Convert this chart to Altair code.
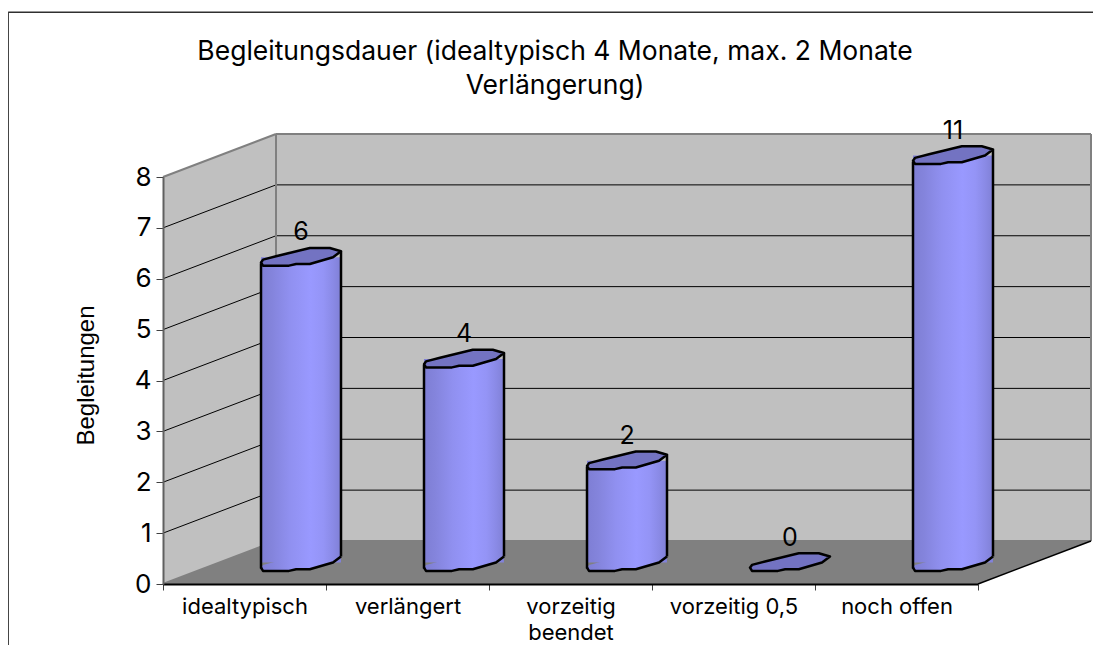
import altair as alt
import pandas as pd

categories = ["idealtypisch", "verlängert", "vorzeitig beendet", "vorzeitig 0,5", "noch offen"]
values = [6, 4, 2, 0, 11]
axis_labels = [["idealtypisch"], ["verlängert"], ["vorzeitig", "beendet"], ["vorzeitig 0,5"], ["noch offen"]]
title_lines = ["Begleitungsdauer (idealtypisch 4 Monate, max. 2 Monate", "Verlängerung)"]
y_max = 8
n = len(categories)
grid_levels = [1, 2, 3, 4, 5, 6, 7, 8]

# plot-unit geometry of the oblique 3D projection
DX = 113 / 163.0   # depth shift in category units
DY = 43 / 50.875   # depth shift in value units
HALF = 40 / 163.0  # half cylinder width in category units
SIDE = 6 / 50.875  # rim height at the cylinder side, in value units

CAP = ("M-1,0.13 L-0.95,0.06 L-0.6,-0.03 L0.22,-0.23 L0.72,-0.23 L1,-0.15 L0.8,0 "
       "L0.22,0.17 L-0.12,0.17 L-0.3,0.21 L-0.95,0.21 Z")
EDGE = "M-1,0.13 L-0.95,0.21 L-0.3,0.21 L-0.12,0.17 L0.22,0.17 L0.8,0 L1,-0.15"

FONT = "Inter"
BODY = alt.LinearGradient(gradient="linear", x1=0, x2=1, y1=0, y2=0, stops=[
    alt.GradientStop(offset=0, color="#7e7ed4"),
    alt.GradientStop(offset=0.14, color="#8484dc"),
    alt.GradientStop(offset=0.36, color="#9090f0"),
    alt.GradientStop(offset=0.62, color="#9999ff"),
    alt.GradientStop(offset=0.78, color="#9494f6"),
    alt.GradientStop(offset=0.9, color="#8a8ae6"),
    alt.GradientStop(offset=1, color="#8080d6"),
])

xs = alt.Scale(domain=[0, n], nice=False, zero=False)
ys = alt.Scale(domain=[0, y_max], nice=False, zero=False)

AX = alt.Axis(
    values=list(range(n + 1)), grid=False, zindex=1, domainColor="#000000", domainWidth=2,
    tickColor="#404040", tickSize=6, tickWidth=1, labelFont=FONT, labelFontSize=22,
    labelColor="#000000", labelOffset=81.5, labelPadding=6, labelBaseline="top",
    labelFlush=False, labelOverlap=False, labelAlign="center", labelLineHeight=26,
    labelExpr=f"datum.value < {n} ? {axis_labels}[datum.value] : ''")
AY = alt.Axis(
    values=list(range(y_max + 1)), grid=False, zindex=1, domainColor="#606060", domainWidth=2,
    tickColor="#404040", tickSize=7, tickWidth=1, labelFont=FONT, labelFontSize=26,
    labelColor="#000000", labelPadding=5, labelFlush=False, labelOverlap=False,
    titleFont="Liberation Sans", titleFontSize=24, titleFontWeight="normal", titleColor="#000000",
    titleX=-65, titleY=198)


def X(f="x"):
    return alt.X(f"{f}:Q", scale=xs, axis=AX, title=None)


def Y(f="y"):
    return alt.Y(f"{f}:Q", scale=ys, axis=AY, title="Begleitungen")


# walls and floor
side_wall = pd.DataFrame({"x": [0, DX], "y": [0, DY], "y2": [y_max, y_max + DY]})
back_wall = pd.DataFrame({"x": [DX, n + DX], "y": [DY, DY], "y2": [y_max + DY, y_max + DY]})
floor = pd.DataFrame({"x": [0, DX, n, n + DX], "y": [0, 0, 0, DY], "y2": [0, DY, DY, DY]})

walls = alt.Chart(back_wall).mark_area(color="#c0c0c0", interpolate="linear", opacity=1).encode(x=X(), y=Y(), y2="y2:Q")
side = alt.Chart(side_wall).mark_area(color="#c0c0c0", interpolate="linear", opacity=1).encode(x=X(), y=Y(), y2="y2:Q")
ground = alt.Chart(floor).mark_area(color="#808080", interpolate="linear", opacity=1).encode(x=X(), y=Y(), y2="y2:Q")

# gridlines
grid_back = pd.DataFrame({"x": DX, "x2": n + DX, "y": [g + DY for g in grid_levels[:-1]], "y2": [g + DY for g in grid_levels[:-1]]})
grid_side = pd.DataFrame({"x": 0.0, "x2": DX, "y": grid_levels[:-1], "y2": [g + DY for g in grid_levels[:-1]]})
grid = alt.Chart(pd.concat([grid_back, grid_side])).mark_rule(color="#000000", strokeWidth=1).encode(
    x=X(), x2="x2:Q", y=Y(), y2="y2:Q")

# grey wall borders
borders = pd.DataFrame({
    "x": [0, DX, DX, n + DX, DX, 0],
    "x2": [DX, n + DX, DX, n + DX, n + DX, DX],
    "y": [y_max, y_max + DY, DY, DY, DY, 0],
    "y2": [y_max + DY, y_max + DY, y_max + DY, y_max + DY, DY, DY],
})
border = alt.Chart(borders).mark_rule(color="#808080", strokeWidth=2).encode(x=X(), x2="x2:Q", y=Y(), y2="y2:Q")
right_edge = alt.Chart(pd.DataFrame({"x": [n], "x2": [n + DX], "y": [0], "y2": [DY]})).mark_rule(
    color="#000000", strokeWidth=1.5).encode(x=X(), x2="x2:Q", y=Y(), y2="y2:Q")

# outer frame of the chart object, running off the page at right and bottom
frame = alt.Chart(pd.DataFrame({
    "x": [-0.95, -0.95], "x2": [5.8, -0.95], "y": [11.24, 11.24], "y2": [11.24, -1.4]
})).mark_rule(color="#303030", strokeWidth=1.5).encode(x=X(), x2="x2:Q", y=Y(), y2="y2:Q")

# title lines
title_df = pd.DataFrame({"text": title_lines, "x": [2.405, 2.405], "y": [10.46, 9.79]})
title = alt.Chart(title_df).mark_text(
    font=FONT, fontSize=26.5, color="#000000", baseline="middle", align="center"
).encode(x=X(), y=Y(), text="text:N")

# cylinders (value axis ends at y_max, so taller bars are cut there)
rows = []
for i, (c, v) in enumerate(zip(categories, values)):
    cx = i + 0.5 + DX / 2
    top = min(v, y_max) + DY / 2
    rows.append({"cat": c, "label": str(v), "cx": cx, "x0": cx - HALF, "x1": cx + HALF,
                 "top": top, "base": DY / 2, "topL": top - SIDE, "topR": top + SIDE,
                 "baseL": DY / 2 - SIDE, "baseR": DY / 2 + SIDE})
bars = pd.DataFrame(rows)
standing = bars[bars["top"] > bars["base"]]

bottom_fill = alt.Chart(standing).mark_point(
    shape=CAP, size=6400, filled=True, fill=BODY, opacity=1, strokeWidth=0
).encode(x=X("cx"), y=Y("base"))
body = alt.Chart(standing).mark_rect(fill=BODY, opacity=1).encode(x=X("x0"), x2="x1:Q", y=Y("base"), y2="top:Q")
left_side = alt.Chart(standing).mark_rule(color="#000000", strokeWidth=2.5).encode(x=X("x0"), y=Y("baseL"), y2="topL:Q")
right_side = alt.Chart(standing).mark_rule(color="#000000", strokeWidth=2.5).encode(x=X("x1"), y=Y("baseR"), y2="topR:Q")
bottom_edge = alt.Chart(standing).mark_point(
    shape=EDGE, size=6400, filled=False, stroke="#000000", strokeWidth=2.5, opacity=1, fillOpacity=0, strokeJoin="round"
).encode(x=X("cx"), y=Y("base"))
top_cap = alt.Chart(bars).mark_point(
    shape=CAP, size=6400, filled=True, fill="#7373c2", stroke="#000000", strokeWidth=2.5, opacity=1, strokeJoin="round"
).encode(x=X("cx"), y=Y("top"))
labels = alt.Chart(bars).mark_text(
    font=FONT, fontSize=25, color="#000000", dy=-25, baseline="middle", align="center"
).encode(x=X("cx"), y=Y("top"), text="label:N")

chart = alt.layer(
    walls, side, ground, grid, border, right_edge, frame, title,
    bottom_fill, body, left_side, right_side, bottom_edge, top_cap, labels
).properties(
    width=815, height=407,
    padding={"left": 155, "right": 115, "top": 169, "bottom": 61},
    autosize=alt.AutoSizeParams(type="none"),
).configure_view(stroke=None).configure(background="#ffffff")

chart.save("out.html", embed_options={"renderer": "svg", "actions": False})
